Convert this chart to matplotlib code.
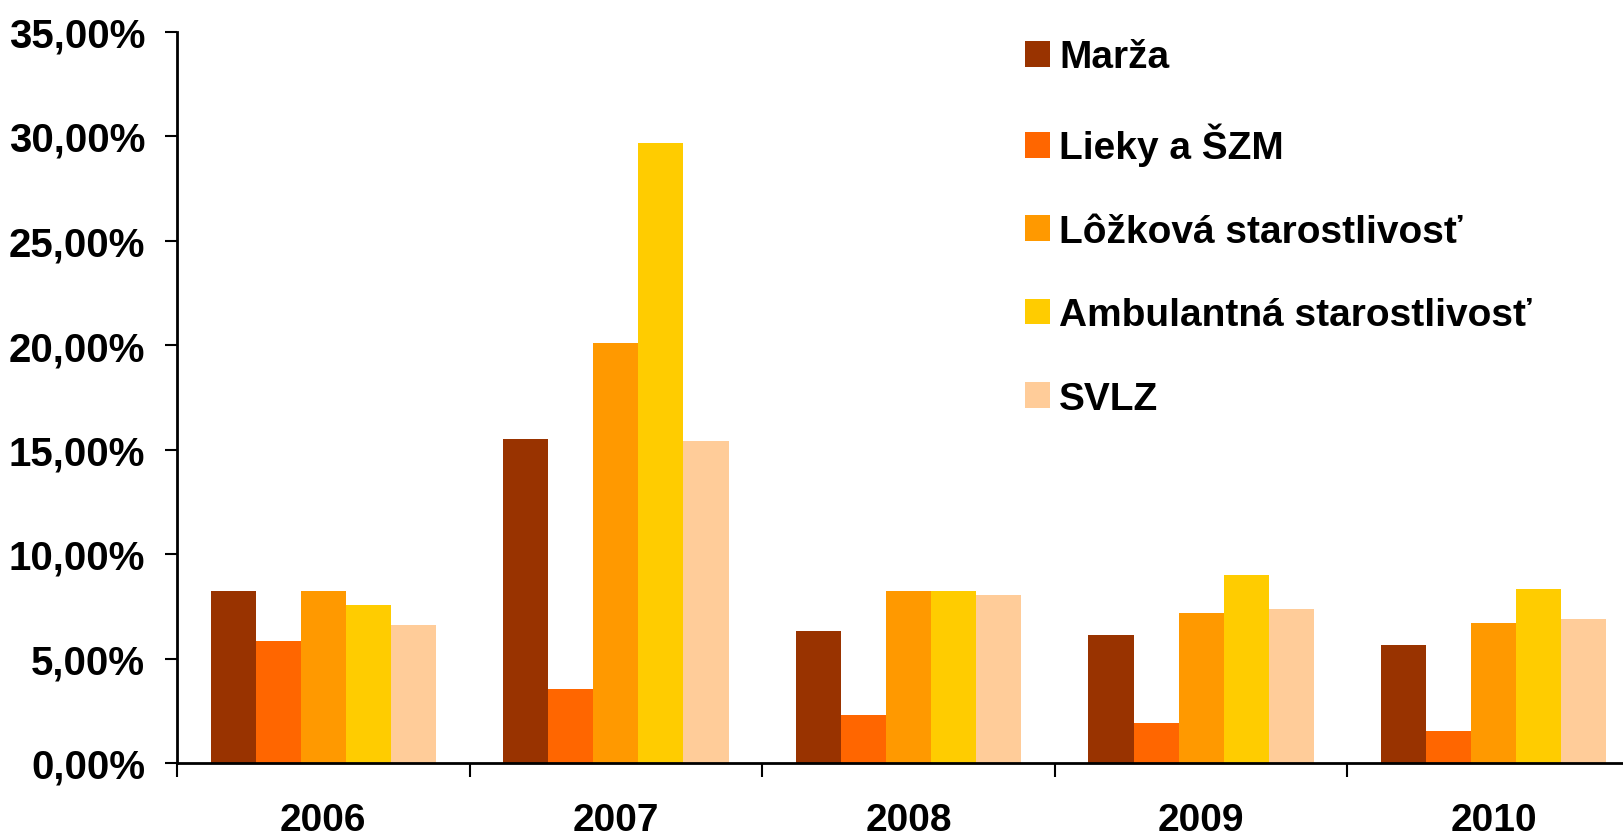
import numpy as np
import matplotlib
matplotlib.use("Agg")
import matplotlib.pyplot as plt
from matplotlib.ticker import FuncFormatter, FixedLocator
from matplotlib.patches import Patch

years = ["2006", "2007", "2008", "2009", "2010"]
series = ["Marža", "Lieky a ŠZM", "Lôžková starostlivosť",
          "Ambulantná starostlivosť", "SVLZ"]
marza = [8.23, 15.50, 6.32, 6.12, 5.65]
lieky = [5.84, 3.54, 2.30, 1.91, 1.53]
lozkova = [8.23, 20.10, 8.23, 7.18, 6.70]
ambulantna = [7.56, 29.67, 8.23, 9.00, 8.33]
svlz = [6.60, 15.41, 8.04, 7.37, 6.89]
colors = ["#993300", "#FF6600", "#FF9900", "#FFCC00", "#FFCC99"]

plt.rcParams['font.family'] = ['Liberation Sans', 'DejaVu Sans']
plt.rcParams['font.weight'] = 'bold'

W, H = 1623, 837
fig = plt.figure(figsize=(W/100, H/100), dpi=100)
# axis spans past the right edge, like the original crop
left, right, top, bottom = 177, 1640, 32.5, 764
ax = fig.add_axes([left/W, 1-bottom/H, (right-left)/W, (bottom-top)/H])

x = np.arange(len(years))
bw = 0.154
data = [marza, lieky, lozkova, ambulantna, svlz]
for i, (vals, c, name) in enumerate(zip(data, colors, series)):
    ax.bar(x + (i-2)*bw, vals, bw, color=c, label=name, linewidth=0)

ax.set_xlim(-0.5, len(years)-0.5)
ax.set_ylim(0, 35)
ax.set_yticks(np.arange(0, 36, 5))
ax.yaxis.set_major_formatter(FuncFormatter(lambda v, p: f"{v:.2f}%".replace('.', ',')))

ax.xaxis.set_major_locator(FixedLocator(np.arange(-0.5, len(years), 1)))
ax.xaxis.set_major_formatter(FuncFormatter(lambda v, p: ""))
ax.set_xticks(x, minor=True)
ax.set_xticklabels(years, minor=True)
ax.tick_params(axis='x', which='major', length=10, width=1.5, direction='out')
ax.tick_params(axis='x', which='minor', length=0, pad=28, labelsize=28)
ax.tick_params(axis='y', length=9, width=1.5, direction='out', pad=14, labelsize=29)

for s in ['top', 'right']:
    ax.spines[s].set_visible(False)
for s in ['left', 'bottom']:
    ax.spines[s].set_linewidth(2)

handles = [Patch(facecolor=c, label=n) for c, n in zip(colors, series)]
fig.legend(handles=handles, loc='upper left', bbox_to_anchor=(1006/W, 1-21/H),
           frameon=False, fontsize=28, handlelength=0.64, handleheight=0.64,
           handletextpad=0.22, labelspacing=1.22, borderpad=0)

fig.savefig("out.png", dpi=100)
